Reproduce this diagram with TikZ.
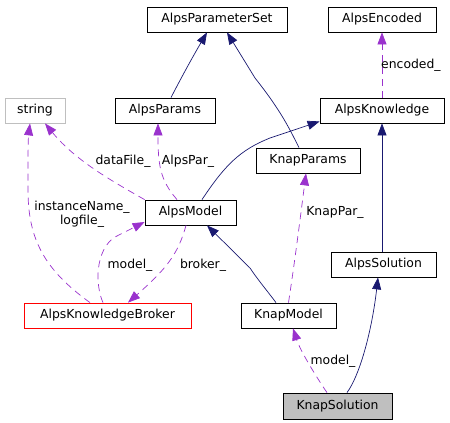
\documentclass[tikz,border=0pt]{standalone}
\usepackage{fontspec}
\setmainfont{DejaVu Sans}
\usetikzlibrary{arrows.meta}
\definecolor{navy}{HTML}{191970}
\definecolor{orchid}{HTML}{9A32CD}
\definecolor{boxgray}{HTML}{BFBFBF}
\begin{document}
\begin{tikzpicture}[x=1pt,y=-1pt,>={Triangle[length=12pt,width=9pt]},
   font=\fontsize{12.4}{14}\selectfont,
   cls/.style={draw,line width=0.8pt,minimum height=25pt,inner sep=0pt},
   inh/.style={->,draw=navy,line width=0.7pt},
   use/.style={->,draw=orchid,line width=0.7pt,dash pattern=on 7pt off 5pt},
   lbl/.style={inner sep=0pt}]
   \useasboundingbox (0,0) rectangle (450,423);

   % クラス
   \node[cls,minimum width=140pt] (pset) at (217,19.5) {AlpsParameterSet};
   \node[cls,minimum width=108pt] (enc) at (382,19.5) {AlpsEncoded};
   \node[cls,draw=boxgray,minimum width=60pt] (str) at (35,110.5) {string};
   \node[cls,minimum width=100pt] (aparams) at (165,110.5) {AlpsParams};
   \node[cls,minimum width=124pt] (aknow) at (382,110.5) {AlpsKnowledge};
   \node[cls,minimum width=104pt] (kparams) at (308,160.5) {KnapParams};
   \node[cls,minimum width=91pt] (amodel) at (190.5,212.5) {AlpsModel};
   \node[cls,minimum width=105pt] (asol) at (383.5,264.5) {AlpsSolution};
   \node[cls,draw=red,minimum width=167pt] (broker) at (107.5,315.5) {AlpsKnowledgeBroker};
   \node[cls,minimum width=95pt] (kmodel) at (288.5,315.5) {KnapModel};
   \node[cls,fill=boxgray,minimum width=109pt,minimum height=26pt] (ksol) at (337.5,406) {KnapSolution};

   % 継承
   \draw[inh] ([xshift=6pt]aparams.north) .. controls (180,80) and (192,58) .. ([xshift=-10pt]pset.south);
   \draw[inh] ([xshift=-9pt]kparams.north) .. controls (290,130) and (282,112) .. (255,78) -- ([xshift=10pt]pset.south);
   \draw[inh] ([xshift=11.5pt]amodel.north) .. controls (225,165) and (240,150) .. (270,138) -- ([yshift=2pt]aknow.south west);
   \draw[inh] ([xshift=-1.5pt]asol.north) -- (aknow.south);
   \draw[inh] ([xshift=-12.5pt]kmodel.north) .. controls (265,288) and (258,280) .. (250,268) -- ([xshift=16.5pt]amodel.south);
   \draw[inh] ([xshift=9.5pt]ksol.north) .. controls (360,375) and (372,330) .. ([xshift=-5.5pt]asol.south);

   % メンバ
   \draw[use] (aknow.north) -- (enc.south);
   \node[lbl,anchor=west] (lenc) at (381,65) {encoded\_};
   \draw[use] (amodel.north west) .. controls (110,180) and (75,160) .. ([xshift=10pt]str.south);
   \node[lbl] (ldata) at (123,161) {dataFile\_};
   \draw[use] ([xshift=-13.5pt]amodel.north) .. controls (160,180) and (158,165) .. ([xshift=-7pt]aparams.south);
   \node[lbl] (lpar) at (188,161) {AlpsPar\_};
   \draw[use] ([xshift=-17.5pt]broker.north) .. controls (45,270) and (28,240) .. (28,190) .. controls (28,160) and (28,140) .. ([xshift=-5pt]str.south);
   \node[lbl,align=center] (lname) at (82,214) {instanceName\_\\logfile\_};
   \draw[use] ([xshift=-4.5pt]broker.north) .. controls (95,285) and (95,250) .. (115,237) -- ([yshift=-9.5pt]amodel.west);
   \node[lbl] (lmod) at (130,265) {model\_};
   \draw[use] ([xshift=-4.5pt]amodel.south) .. controls (178,255) and (165,270) .. ([xshift=20.5pt]broker.north);
   \node[lbl] (lbrk) at (203,265) {broker\_};
   \draw[use] (kmodel.north) .. controls (295,260) and (300,220) .. ([xshift=-2pt]kparams.south);
   \node[lbl] (lkpar) at (335,212) {KnapPar\_};
   \draw[use] ([xshift=-10.5pt]ksol.north) .. controls (315,375) and (300,350) .. ([xshift=4.5pt]kmodel.south);
   \node[lbl] (lkmod) at (333,361) {model\_};
\end{tikzpicture}
\end{document}
